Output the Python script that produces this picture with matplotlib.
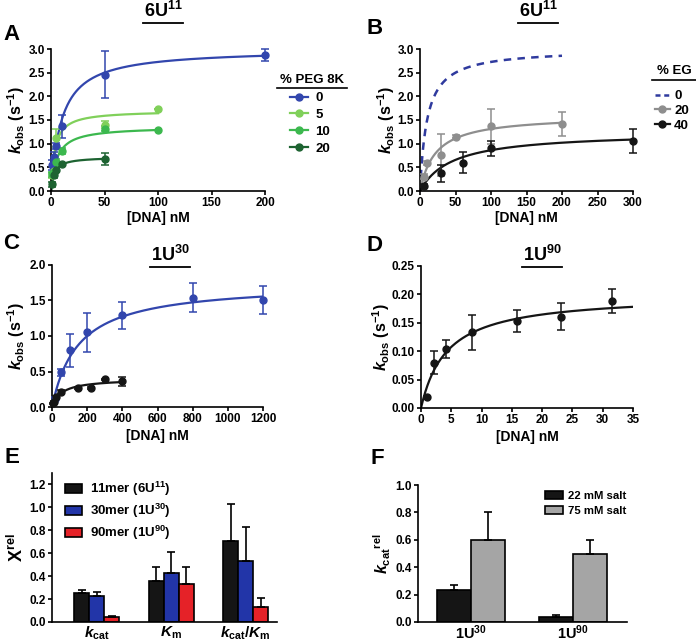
import numpy as np
import matplotlib.pyplot as plt
from matplotlib.lines import Line2D

plt.rcParams['font.family'] = 'Liberation Sans'
plt.rcParams['font.weight'] = 'bold'
plt.rcParams['axes.labelweight'] = 'bold'
plt.rcParams['mathtext.fontset'] = 'custom'
plt.rcParams['mathtext.rm'] = 'Liberation Sans:bold'
plt.rcParams['mathtext.it'] = 'Liberation Sans:italic:bold'
plt.rcParams['mathtext.bf'] = 'Liberation Sans:bold'
plt.rcParams['axes.linewidth'] = 1.2

# ---- panel A: 6U11, % PEG 8K ----
a_x0 = [1, 2.5, 5, 10, 50, 200]
a_y0 = [0.55, 0.72, 0.95, 1.37, 2.46, 2.87]
a_e0 = [0.1, 0.1, 0.06, 0.24, 0.5, 0.13]
a_x5 = [1, 2.5, 5, 50, 100]
a_y5 = [0.33, 0.42, 1.12, 1.40, 1.73]
a_e5 = [0.05, 0.08, 0.2, 0.07, 0.0]
a_x10 = [1, 2.5, 5, 10, 50, 100]
a_y10 = [0.35, 0.40, 0.62, 0.84, 1.32, 1.28]
a_e10 = [0.05, 0.06, 0.05, 0.06, 0.05, 0.0]
a_x20 = [1, 2.5, 5, 10, 50]
a_y20 = [0.14, 0.33, 0.45, 0.57, 0.68]
a_e20 = [0.06, 0.05, 0.04, 0.03, 0.13]
# fitted hyperbolas: (Vmax, Km, last x)
a_fit = {'0': (3.0, 10, 200), '5': (1.7, 3.5, 100), '10': (1.36, 5.5, 100), '20': (0.72, 3, 50)}

# ---- panel B: 6U11, % EG ----
b_x20 = [5, 10, 30, 50, 100, 200]
b_y20 = [0.30, 0.59, 0.76, 1.15, 1.37, 1.42]
b_e20 = [0.05, 0.05, 0.45, 0.03, 0.37, 0.25]
b_x40 = [5, 30, 60, 100, 300]
b_y40 = [0.11, 0.37, 0.60, 0.90, 1.06]
b_e40 = [0.03, 0.17, 0.23, 0.15, 0.26]
b_fit = {'0': (3.0, 10, 200), '20': (1.6, 22, 200), '40': (1.25, 45, 300)}

# ---- panel C: 1U30 ----
c_xb = [15, 50, 100, 200, 400, 800, 1200]
c_yb = [0.11, 0.49, 0.80, 1.05, 1.29, 1.54, 1.51]
c_eb = [0.03, 0.05, 0.23, 0.27, 0.19, 0.2, 0.2]
c_xk = [5, 10, 25, 50, 150, 220, 300, 400]
c_yk = [0.05, 0.07, 0.14, 0.21, 0.27, 0.27, 0.39, 0.36]
c_ek = [0.01, 0.01, 0.02, 0.03, 0.01, 0.01, 0.01, 0.06]
c_fit = {'blue': (1.75, 150, 1200), 'black': (0.40, 55, 400)}

# ---- panel D: 1U90 ----
d_x = [1, 2.1, 4.2, 8.4, 15.8, 23.1, 31.6]
d_y = [0.019, 0.080, 0.104, 0.133, 0.153, 0.161, 0.188]
d_e = [0.002, 0.02, 0.016, 0.031, 0.02, 0.023, 0.021]
d_fit = (0.2, 4.3, 35)

# ---- panel E ----
e_groups = [r'$k_{\mathrm{cat}}$', r'$K_{\mathrm{m}}$', r'$k_{\mathrm{cat}}/K_{\mathrm{m}}$']
e_series = ['11mer (6U$^{11}$)', '30mer (1U$^{30}$)', '90mer (1U$^{90}$)']
e_vals = [[0.25, 0.36, 0.71], [0.23, 0.43, 0.53], [0.04, 0.33, 0.13]]
e_errs = [[0.03, 0.12, 0.32], [0.03, 0.18, 0.30], [0.01, 0.15, 0.08]]

# ---- panel F ----
f_groups = ['1U$^{30}$', '1U$^{90}$']
f_series = ['22 mM salt', '75 mM salt']
f_vals = [[0.23, 0.04], [0.60, 0.50]]
f_errs = [[0.04, 0.01], [0.20, 0.10]]

blue = '#3246ad'
lgreen = '#80d05a'
mgreen = '#3cb84e'
dgreen = '#1d6331'
gray = '#8e8e8e'
black = '#151515'

W, H = 696, 643
fig = plt.figure(figsize=(W / 100, H / 100), dpi=100)


def box(l, t, r, b):
    return [l / W, 1 - b / H, (r - l) / W, (b - t) / H]


def fx(x):
    return x / W


def fy(y):
    return 1 - y / H


def style(ax):
    ax.spines['top'].set_visible(False)
    ax.spines['right'].set_visible(False)
    ax.tick_params(direction='out', length=3, width=1.2, labelsize=8.5, pad=1.5)
    for lab in ax.get_xticklabels() + ax.get_yticklabels():
        lab.set_fontweight('bold')


def put_ylabel(ax, text, size, gap):
    # gap: px between the label's right edge and the y axis
    ax.set_ylabel(text, fontsize=size)
    ax.yaxis.set_label_coords(-gap / (ax.get_position().width * W), 0.5)


def mm(p, n=300):
    vmax, km, xmax = p
    x = np.linspace(0, xmax, n)
    return x, vmax * x / (km + x)


def title(x, y, text, w):
    fig.text(fx(x), fy(y), text, ha='center', va='bottom', fontsize=13, fontweight='bold')
    fig.add_artist(Line2D([fx(x - w / 2), fx(x + w / 2)], [fy(y + 2), fy(y + 2)],
                          color='black', lw=1.3, transform=fig.transFigure))


def points(ax, x, y, e, c):
    ax.errorbar(x, y, yerr=e, fmt='o', color=c, ms=5, capsize=3, elinewidth=1.1,
                capthick=1.1, clip_on=False, zorder=3)


ylab = r'$k_{\mathrm{obs}}$ (s$^{\mathrm{-1}}$)'

# panel A
ax = fig.add_axes(box(51, 49, 265, 191))
for (x, y, e, c, k) in [(a_x0, a_y0, a_e0, blue, '0'), (a_x5, a_y5, a_e5, lgreen, '5'),
                        (a_x10, a_y10, a_e10, mgreen, '10'), (a_x20, a_y20, a_e20, dgreen, '20')]:
    cx, cy = mm(a_fit[k])
    ax.plot(cx, cy, color=c, lw=1.6)
    points(ax, x, y, e, c)
ax.set_xlim(0, 200)
ax.set_ylim(0, 3)
ax.set_xticks([0, 50, 100, 150, 200])
ax.set_yticks(np.arange(0, 3.01, 0.5))
ax.yaxis.set_major_formatter('{x:.1f}')
ax.set_xlabel('[DNA] nM', fontsize=10, labelpad=1)
put_ylabel(ax, ylab, 11.5, 24)
style(ax)
title(163, 21, '6U$^{\\mathrm{11}}$', 40)
fig.text(fx(312), fy(86), '% PEG 8K', ha='center', va='bottom', fontsize=9.5, fontweight='bold')
fig.add_artist(Line2D([fx(277), fx(347)], [fy(88), fy(88)], color='black', lw=1.2,
                      transform=fig.transFigure))
hA = [Line2D([0], [0], color=c, marker='o', ms=5, lw=1.6) for c in [blue, lgreen, mgreen, dgreen]]
fig.legend(hA, ['0', '5', '10', '20'], loc='upper left', bbox_to_anchor=(fx(290), fy(92)),
           frameon=False, fontsize=9.5, handlelength=1.4, handletextpad=0.5, labelspacing=0.35,
           borderpad=0, borderaxespad=0)

# panel B
ax = fig.add_axes(box(420, 49, 633, 191))
x, y = mm(b_fit['0'])
ax.plot(x, y, color='#2f3a9e', lw=1.8, ls=(0, (3, 2.5)))
for (xx, yy, ee, c, k) in [(b_x20, b_y20, b_e20, gray, '20'), (b_x40, b_y40, b_e40, black, '40')]:
    x, y = mm(b_fit[k])
    ax.plot(x, y, color=c, lw=1.6)
    points(ax, xx, yy, ee, c)
ax.set_xlim(0, 300)
ax.set_ylim(0, 3)
ax.set_xticks(np.arange(0, 301, 50))
ax.set_yticks(np.arange(0, 3.01, 0.5))
ax.yaxis.set_major_formatter('{x:.1f}')
ax.set_xlabel('[DNA] nM', fontsize=10, labelpad=1)
put_ylabel(ax, ylab, 11.5, 23)
style(ax)
title(538, 21, '6U$^{\\mathrm{11}}$', 40)
fig.text(fx(674), fy(77), '% EG', ha='center', va='bottom', fontsize=9.5, fontweight='bold')
fig.add_artist(Line2D([fx(652), fx(696)], [fy(80), fy(80)], color='black', lw=1.2,
                      transform=fig.transFigure))
hB = [Line2D([0], [0], color='#2f3a9e', lw=1.8, ls=(0, (2, 1.5))),
      Line2D([0], [0], color=gray, marker='o', ms=5, lw=1.6),
      Line2D([0], [0], color=black, marker='o', ms=5, lw=1.6)]
fig.legend(hB, ['0', '20', '40'], loc='upper left', bbox_to_anchor=(fx(655), fy(90)),
           frameon=False, fontsize=9.5, handlelength=1.1, handletextpad=0.35, labelspacing=0.2,
           borderpad=0, borderaxespad=0)

# panel C
ax = fig.add_axes(box(52, 265, 263, 407))
for (xx, yy, ee, c, k) in [(c_xb, c_yb, c_eb, blue, 'blue'), (c_xk, c_yk, c_ek, black, 'black')]:
    x, y = mm(c_fit[k])
    ax.plot(x, y, color=c, lw=1.6)
    points(ax, xx, yy, ee, c)
ax.set_xlim(0, 1200)
ax.set_ylim(0, 2)
ax.set_xticks(np.arange(0, 1201, 200))
ax.set_yticks(np.arange(0, 2.01, 0.5))
ax.yaxis.set_major_formatter('{x:.1f}')
ax.set_xlabel('[DNA] nM', fontsize=10, labelpad=3)
put_ylabel(ax, ylab, 11.5, 25)
style(ax)
title(170, 265, '1U$^{\\mathrm{30}}$', 40)

# panel D
ax = fig.add_axes(box(421, 266, 633, 408))
x, y = mm(d_fit)
ax.plot(x, y, color=black, lw=1.6)
points(ax, d_x, d_y, d_e, black)
ax.set_xlim(0, 35)
ax.set_ylim(0, 0.25)
ax.set_xticks(np.arange(0, 36, 5))
ax.set_yticks(np.arange(0, 0.251, 0.05))
ax.yaxis.set_major_formatter('{x:.2f}')
ax.set_xlabel('[DNA] nM', fontsize=10, labelpad=3)
put_ylabel(ax, ylab, 11.5, 29)
style(ax)
title(542, 265, '1U$^{\\mathrm{90}}$', 40)

# panel E
ax = fig.add_axes(box(52, 473, 277, 622))
pos = np.arange(len(e_groups))
bw = 0.2
for i, (v, e, c, lab) in enumerate(zip(e_vals, e_errs, [black, '#2235a8', '#e52228'], e_series)):
    ax.bar(pos + (i - 1) * bw, v, bw, color=c, edgecolor='black', lw=1.2, label=lab,
           yerr=[np.zeros(len(e)), e], error_kw=dict(ecolor='black', elinewidth=1.2, capsize=3, capthick=1.2))
ax.set_xlim(-0.6, 2.42)
ax.set_ylim(0, 1.3)
ax.set_yticks(np.arange(0, 1.21, 0.2))
ax.yaxis.set_major_formatter('{x:.1f}')
ax.set_xticks(pos)
ax.set_xticklabels(e_groups, fontsize=11)
put_ylabel(ax, 'X$^{\\mathrm{rel}}$', 13, 25)
style(ax)
ax.tick_params(axis='x', length=0, labelsize=11, pad=2)
ax.legend(loc='upper left', bbox_to_anchor=(0.03, 1.0), frameon=False, fontsize=9.5,
          handlelength=1.25, handleheight=0.7, handletextpad=0.6, labelspacing=0.3, borderpad=0)

# panel F
ax = fig.add_axes(box(418, 485, 627, 622))
pos = np.arange(len(f_groups))
bw = 0.335
for i, (v, e, c, lab) in enumerate(zip(f_vals, f_errs, [black, '#a5a5a5'], f_series)):
    ax.bar(pos + (i - 0.5) * bw, v, bw, color=c, edgecolor='black', lw=1.2, label=lab,
           yerr=[np.zeros(len(e)), e], error_kw=dict(ecolor='black', elinewidth=1.2, capsize=3, capthick=1.2))
ax.set_xlim(-0.52, 1.53)
ax.set_ylim(0, 1.0)
ax.set_yticks(np.arange(0, 1.01, 0.2))
ax.yaxis.set_major_formatter('{x:.1f}')
ax.set_xticks(pos)
ax.set_xticklabels(f_groups, fontsize=10.5)
put_ylabel(ax, r'$k_{\mathrm{cat}}$$^{\mathrm{rel}}$', 11.5, 25)
style(ax)
ax.tick_params(axis='x', length=0, labelsize=10.5, pad=1)
ax.legend(loc='upper left', bbox_to_anchor=(0.58, 1.0), frameon=False, fontsize=8.2,
          handlelength=1.55, handleheight=0.75, handletextpad=0.5, labelspacing=0.45, borderpad=0)

# panel letters
for lab, x, y in [('A', 3, 40), ('B', 366, 34), ('C', 3, 249), ('D', 366, 251), ('E', 5, 463), ('F', 371, 464)]:
    fig.text(fx(x), fy(y), lab, fontsize=16, fontweight='bold', va='baseline')

fig.savefig('out.png', dpi=100)
